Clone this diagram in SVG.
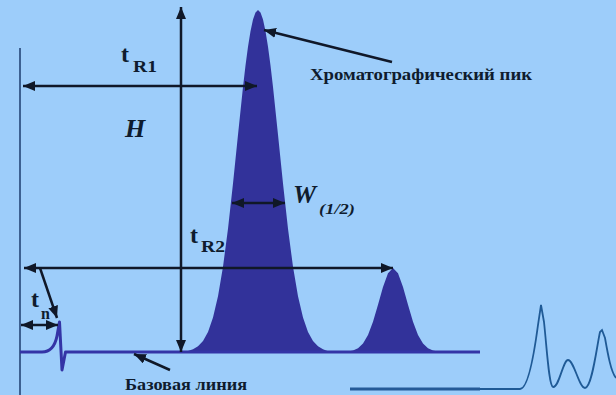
<svg xmlns="http://www.w3.org/2000/svg" width="616" height="395" viewBox="0 0 616 395">
<defs>
<style>
.arr{stroke:#101828;stroke-width:2.5;fill:none}
.peak{fill:#32329a;stroke:none}
.lbl{font-family:'Liberation Serif','DejaVu Serif','Noto Serif',serif;font-weight:bold;fill:#0f1c2e}
.it{font-style:italic}
</style>
<marker id="ah" viewBox="0 0 12 10" refX="12" refY="5" markerWidth="12" markerHeight="10" markerUnits="userSpaceOnUse" orient="auto-start-reverse">
<path d="M0,0 L12,5 L0,10 z" fill="#101828"/>
</marker>
</defs>
<rect width="616" height="395" fill="#9dcdfa"/>

<g id="axis">
<line x1="20" y1="48" x2="20" y2="395" stroke="#1d3b6e" stroke-width="1.5"/>
</g>

<g id="peak1">
<path class="peak" d="M185,352 L193,349.2 L198,346.2 L203,340.9 L208,331.9 L213,317.6 L218,296.3 L223,266.7 L228,228.7 L233,183.6 L238,134.7 L243,87 L245.5,65.5 L248,46.7 L250.5,31.2 L253,19.6 L255.5,12.4 L258,10 L260.5,12.4 L263,19.6 L265.5,31.2 L268,46.7 L270.5,65.5 L273,87 L278,134.7 L283,183.6 L288,228.7 L293,266.7 L298,296.3 L303,317.6 L308,331.9 L313,340.9 L318,346.2 L323,349.2 L330,352 z"/>
</g>

<g id="peak2">
<path class="peak" d="M346,352 L353,350.6 L358,348.3 L363,343.5 L368,334.9 L373,321.7 L378,304.7 L383,286.9 L388,273.2 L393,268 L398,273.2 L403,286.9 L408,304.7 L413,321.7 L418,334.9 L423,343.5 L428,348.3 L433,350.6 L440,352 z"/>
</g>

<g id="baseline">
<path d="M20,352 L42,352 C50,352 55,346 57,336 L59.5,322 L62,370 L65.5,352 L480,352" fill="none" stroke="#3434a6" stroke-width="3" stroke-linejoin="round"/>
</g>

<g id="inset">
<line x1="350" y1="389" x2="480" y2="389" stroke="#245a98" stroke-width="3"/>
<path d="M480,389 L520,389 C528,389 534,355 538,325 L541,305 L544,322 C547,350 549,386 553,387 C559,388 563,360 568,360 C574,360 579,388 585,388 C592,388 597,345 600,332 L602,330 L605,338 C608,355 611,372 616,378" fill="none" stroke="#1f5a96" stroke-width="1.8"/>
</g>

<g id="connectors">
<line class="arr" x1="181" y1="7" x2="181" y2="352" marker-start="url(#ah)" marker-end="url(#ah)"/>
<line class="arr" x1="23" y1="86" x2="257" y2="86" marker-start="url(#ah)" marker-end="url(#ah)"/>
<line class="arr" x1="24" y1="268" x2="393" y2="268" marker-start="url(#ah)" marker-end="url(#ah)"/>
<line class="arr" x1="21" y1="325" x2="58" y2="325" marker-start="url(#ah)" marker-end="url(#ah)"/>
<line class="arr" x1="232" y1="203" x2="285" y2="203" marker-start="url(#ah)" marker-end="url(#ah)"/>
<line class="arr" x1="40" y1="268" x2="57" y2="318" marker-end="url(#ah)"/>
<line class="arr" x1="392" y1="62" x2="264" y2="30" marker-end="url(#ah)"/>
<line class="arr" x1="170" y1="370" x2="134" y2="354" marker-end="url(#ah)"/>
</g>

<g id="label-tR1">
<text class="lbl" x="121" y="62" font-size="24">t</text>
<text class="lbl" x="133" y="72" font-size="16" textLength="24" lengthAdjust="spacingAndGlyphs">R1</text>
</g>
<g id="label-H">
<text class="lbl it" x="125" y="137" font-size="26">H</text>
</g>
<g id="label-W">
<text class="lbl it" x="293" y="203" font-size="26">W</text>
<text class="lbl it" x="319" y="214" font-size="15" textLength="36" lengthAdjust="spacingAndGlyphs">(1/2)</text>
</g>
<g id="label-tR2">
<text class="lbl" x="190" y="243" font-size="24">t</text>
<text class="lbl" x="201" y="252" font-size="16" textLength="24" lengthAdjust="spacingAndGlyphs">R2</text>
</g>
<g id="label-tn">
<text class="lbl" x="31" y="307" font-size="24">t</text>
<text class="lbl" x="41" y="319" font-size="16">n</text>
</g>
<g id="label-peak">
<text class="lbl" x="310" y="80" font-size="16" textLength="222" lengthAdjust="spacingAndGlyphs">Хроматографический пик</text>
</g>
<g id="label-base">
<text class="lbl" x="125" y="390" font-size="16" textLength="122" lengthAdjust="spacingAndGlyphs">Базовая линия</text>
</g>
</svg>
